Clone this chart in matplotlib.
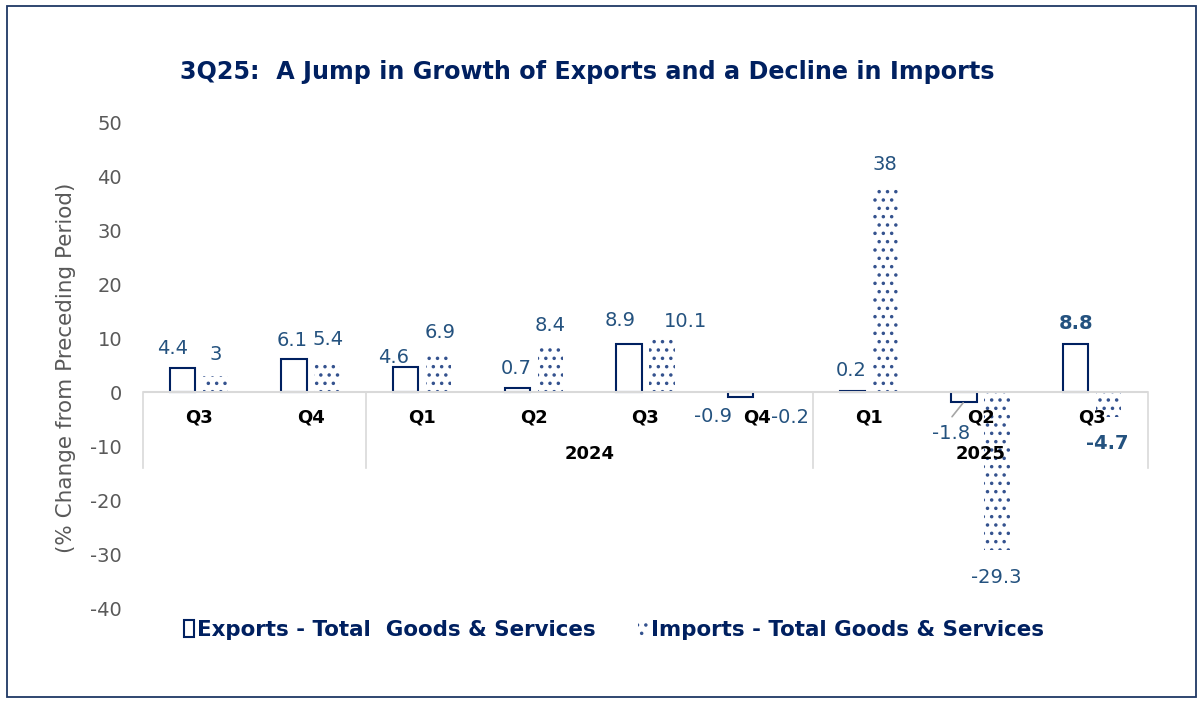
import matplotlib
matplotlib.use('Agg')
import matplotlib.pyplot as plt
import matplotlib.patches as mpatches

# quarterly % change, goods & services trade
quarters = ['Q3', 'Q4', 'Q1', 'Q2', 'Q3', 'Q4', 'Q1', 'Q2', 'Q3']
years = ['', '2024', '2025']
year_first = [0, 2, 6]
year_last = [1, 5, 8]
exports = [4.4, 6.1, 4.6, 0.7, 8.9, -0.9, 0.2, -1.8, 8.8]
imports = [3.0, 5.4, 6.9, 8.4, 10.1, -0.2, 38.0, -29.3, -4.7]

# label nudges (pixels) from the end of each bar
exp_nudge = [(-10, 20), (-2, 19), (-12, 10), (-1, 20), (-9, 23),
             (-28, -20), (-1, 20), (-13, -32), (0, 21)]
imp_nudge = [(0, 21), (1, 23), (1, 22), (0, 21), (24, 16),
             (16, -24), (0, 22), (-1, -27), (-1, -26)]

NAVY = '#002060'
DOTS = '#34528E'
LABEL = '#24527F'
GREY_TXT = '#595959'
AXIS = '#D9D9D9'

plt.rcParams['hatch.linewidth'] = 1.3
plt.rcParams['axes.unicode_minus'] = False

fig = plt.figure(figsize=(12.03, 7.02), dpi=100)
ax = fig.add_axes([143 / 1203, 1 - 608 / 702, 1005 / 1203, 486 / 702])

x = list(range(len(quarters)))
w = 0.225
off = 0.1475
xe = [i - off for i in x]
xi = [i + off for i in x]

be = ax.bar(xe, exports, w, facecolor='white', edgecolor=NAVY, linewidth=1.5,
            label='Exports - Total  Goods & Services', zorder=2)
bi = ax.bar(xi, imports, w, facecolor='white', edgecolor=DOTS, linewidth=0,
            hatch='..', label='Imports - Total Goods & Services', zorder=2)

for k, v in enumerate(exports):
    bold = k == len(exports) - 1
    ax.annotate(f'{v:g}', xy=(xe[k], v), xytext=exp_nudge[k],
                textcoords='offset pixels', ha='center', va='center',
                fontsize=14, color=LABEL,
                fontweight='bold' if bold else 'normal')
for k, v in enumerate(imports):
    bold = k == len(imports) - 1
    ax.annotate(f'{v:g}', xy=(xi[k], v), xytext=imp_nudge[k],
                textcoords='offset pixels', ha='center', va='center',
                fontsize=14, color=LABEL,
                fontweight='bold' if bold else 'normal')

# leader line for the small Q2 2025 exports label
ax.annotate('', xy=(xe[7], exports[7]), xytext=(-12, -15),
            textcoords='offset pixels',
            arrowprops=dict(arrowstyle='-', color='#A6A6A6', lw=1.2,
                            shrinkA=0, shrinkB=1))

ax.set_xlim(-0.5, len(quarters) - 0.5)
ax.set_ylim(-40, 50)
ax.set_yticks(range(-40, 51, 10))
ax.tick_params(axis='y', length=0, pad=15, labelsize=14, labelcolor=GREY_TXT)
ax.set_xticks([])
for s in ax.spines.values():
    s.set_visible(False)

# two-level category axis drawn at zero
ax.axhline(0, color=AXIS, lw=1.5, zorder=3)
for k in range(len(years)):
    ax.plot([year_first[k] - 0.5] * 2, [0, -14], color=AXIS, lw=1.2,
            clip_on=False)
ax.plot([len(quarters) - 0.5] * 2, [0, -14], color=AXIS, lw=1.2, clip_on=False)
for i, q in enumerate(quarters):
    ax.text(i, -4.8, q, ha='center', va='center', fontsize=13,
            fontweight='bold', color='black')
for k, yr in enumerate(years):
    ax.text((year_first[k] + year_last[k]) / 2, -11.5, yr, ha='center',
            va='center', fontsize=13, fontweight='bold', color='black')

fig.text(66 / 1203, 1 - 368 / 702, '(% Change from Preceding Period)',
         rotation=90, ha='center', va='center', fontsize=15.5, color=GREY_TXT)
fig.text(587 / 1203, 1 - 72 / 702,
         '3Q25:  A Jump in Growth of Exports and a Decline in Imports',
         ha='center', va='center', fontsize=17.2, fontweight='bold', color=NAVY)

leg = fig.legend(handles=[be, bi], loc='center', ncol=2,
                 bbox_to_anchor=(614 / 1203, 1 - 630 / 702), frameon=False,
                 handlelength=0.45, handleheight=0.8, handletextpad=0.15,
                 columnspacing=2.0,
                 prop=dict(size=15.4, weight='bold'))
for t in leg.get_texts():
    t.set_color(NAVY)

# outer frame
fig.patches.append(mpatches.Rectangle((7 / 1203, 5 / 702), 1189 / 1203,
                                      691 / 702, transform=fig.transFigure,
                                      fill=False, edgecolor='#1F3864', lw=1.3))

fig.savefig('out.png', dpi=100)
